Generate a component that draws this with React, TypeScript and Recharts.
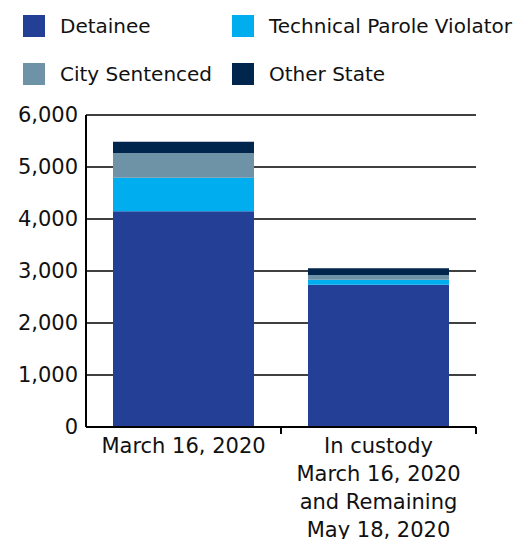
import { BarChart, Bar, XAxis, YAxis, CartesianGrid, Legend } from 'recharts';

const categories = ['March 16, 2020', 'In custody\nMarch 16, 2020\nand Remaining\nMay 18, 2020'];
const detainee = [4148, 2737];
const technicalParoleViolator = [646, 96];
const citySentenced = [475, 90];
const otherState = [218, 129];
const yTicks = [0, 1000, 2000, 3000, 4000, 5000, 6000];

const series = [
  { key: 'detainee', name: 'Detainee', color: '#233f96', values: detainee },
  { key: 'tpv', name: 'Technical Parole Violator', color: '#00adef', values: technicalParoleViolator },
  { key: 'city', name: 'City Sentenced', color: '#6f93a6', values: citySentenced },
  { key: 'other', name: 'Other State', color: '#00264d', values: otherState },
];

const data = categories.map((name, i) => {
  const row: Record<string, string | number> = { name };
  series.forEach((s) => {
    row[s.key] = s.values[i];
  });
  return row;
});

const FONT = '"DejaVu Sans", sans-serif';

// category label plus a small tick at the right edge of its band
function CategoryTick(props: any) {
  const { x, y, payload, width, visibleTicksCount } = props;
  const lines = String(payload.value).split('\n');
  const half = payload.offset || (width && visibleTicksCount ? width / visibleTicksCount / 2 : 0);
  return (
    <g>
      <line x1={x + half} y1={y} x2={x + half} y2={y + 7} stroke="#000" strokeWidth={2} />
      <text x={x} y={y} textAnchor="middle" fill="#111" fontSize={21} fontFamily={FONT}>
        {lines.map((line, i) => (
          <tspan key={i} x={x} dy={i === 0 ? 26 : 28}>
            {line}
          </tspan>
        ))}
      </text>
    </g>
  );
}

function LegendBlock() {
  return (
    <div
      style={{
        height: 100,
        boxSizing: 'border-box',
        paddingLeft: 23,
        paddingTop: 15,
        display: 'grid',
        gridTemplateColumns: '209px auto',
        gridAutoRows: '22px',
        alignContent: 'start',
        rowGap: 26,
        fontFamily: FONT,
        fontSize: 20,
        color: '#111',
      }}
    >
      {series.map((s) => (
        <div key={s.key} style={{ display: 'flex', alignItems: 'center', height: 22 }}>
          <span style={{ width: 22, height: 22, background: s.color, marginRight: 15, flex: 'none' }} />
          <span style={{ lineHeight: '22px', whiteSpace: 'nowrap' }}>{s.name}</span>
        </div>
      ))}
    </div>
  );
}

export default function App() {
  return (
    <div style={{ position: 'absolute', left: 0, top: 0, width: 517, height: 539, background: '#fff' }}>
      <BarChart
        width={517}
        height={539}
        data={data}
        margin={{ top: 15, right: 41, left: 0, bottom: 0 }}
        barSize={141}
      >
        <Legend
          verticalAlign="top"
          content={() => <LegendBlock />}
          wrapperStyle={{ top: 0, left: 0, width: 517, height: 100 }}
        />
        <CartesianGrid vertical={false} stroke="#000" strokeWidth={1.5} />
        <XAxis
          dataKey="name"
          interval={0}
          axisLine={{ stroke: '#000', strokeWidth: 2 }}
          tickLine={false}
          tickSize={0}
          tickMargin={0}
          height={112}
          tick={<CategoryTick />}
        />
        <YAxis
          width={86}
          domain={[0, 6000]}
          ticks={yTicks}
          interval={0}
          axisLine={{ stroke: '#000', strokeWidth: 2 }}
          tickLine={false}
          tickSize={0}
          tickMargin={8}
          tick={{ fill: '#111', fontSize: 21, fontFamily: FONT }}
          tickFormatter={(v: number) => v.toLocaleString('en-US')}
        />
        {series.map((s) => (
          <Bar key={s.key} dataKey={s.key} name={s.name} stackId="a" fill={s.color} isAnimationActive={false} />
        ))}
      </BarChart>
    </div>
  );
}
